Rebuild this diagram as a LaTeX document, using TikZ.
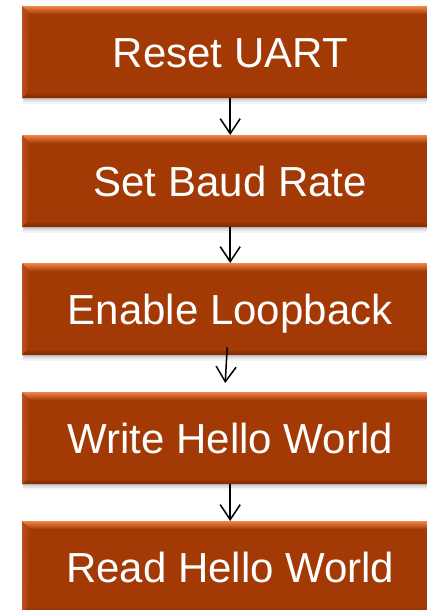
\documentclass[tikz,border=0pt]{standalone}
\usepackage{fontspec}
\setmainfont{Liberation Sans}
\usetikzlibrary{arrows.meta,calc}
\definecolor{boxbody}{HTML}{A33905}
\definecolor{boxhi}{HTML}{F08548}
\definecolor{boxdark}{HTML}{7A2A06}
\definecolor{boxside}{HTML}{B9501A}
\tikzset{
  stepbox/.style={
    anchor=north west, minimum width=416pt, minimum height=92pt,
    inner sep=0pt, text height=30pt, text depth=0pt,
    fill=boxbody, text=white, font=\fontsize{42}{50}\selectfont,
    preaction={fill=black, opacity=0.10, transform canvas={yshift=-2pt, xshift=1pt}},
    preaction={fill=black, opacity=0.07, transform canvas={yshift=-4pt, xshift=1pt}},
    preaction={fill=black, opacity=0.04, transform canvas={yshift=-6pt, xshift=1pt}},
    path picture={
      \path (path picture bounding box.north west) coordinate (pnw)
            (path picture bounding box.south east) coordinate (pse);
      % left bevel
      \shade[left color=boxside, right color=boxbody]
        (pnw) -- ($(pnw)+(8pt,-8pt)$) -- ($(pse -| pnw)+(6pt,6pt)$) -- (pse -| pnw) -- cycle;
      % top bevel
      \shade[top color=boxhi, bottom color=boxbody]
        (pnw) -- (pnw -| pse) -- ($(pnw -| pse)+(-8pt,-8pt)$) -- ($(pnw)+(8pt,-8pt)$) -- cycle;
      % bottom bevel
      \shade[top color=boxbody, bottom color=boxdark]
        (pse) -- (pse -| pnw) -- ($(pse -| pnw)+(6pt,6pt)$) -- ($(pse)+(-6pt,6pt)$) -- cycle;
    }
  },
  flowarrow/.style={-{Straight Barb[length=15pt, width=20pt]}, line width=1.5pt, black}
}
\begin{document}
\begin{tikzpicture}[x=1pt, y=1pt]
  \useasboundingbox (0,0) rectangle (427,-610);
  \fill[white] (0,0) rectangle (427,-610);

  \node[stepbox] (b1) at (22,-6)   {Reset UART};
  \node[stepbox] (b2) at (22,-135) {Set Baud Rate};
  \node[stepbox] (b3) at (22,-263) {Enable Loopback};
  \node[stepbox] (b4) at (22,-392) {Write Hello World};
  \node[stepbox] (b5) at (22,-521) {Read Hello World};

  \coordinate (a3s) at ($(b3.south)+(-3,8)$);
  \coordinate (a3e) at ($(b4.north)+(-5,9)$);

  \draw[flowarrow] (b1.south) -- (b2.north);
  \draw[flowarrow] (b2.south) -- (b3.north);
  \draw[flowarrow] (a3s) -- (a3e);
  \draw[flowarrow] (b4.south) -- (b5.north);
\end{tikzpicture}
\end{document}
